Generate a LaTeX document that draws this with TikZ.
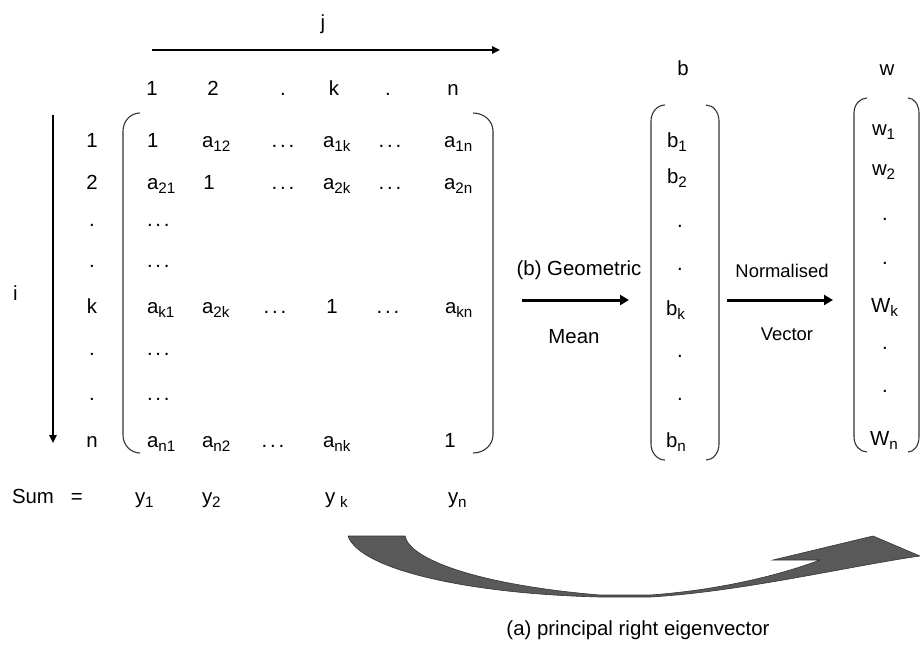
\documentclass[tikz,border=0pt]{standalone}
\usepackage{fontspec}
\setmainfont{Liberation Sans}
\usetikzlibrary{arrows.meta}
\newcommand\mysub[1]{\raisebox{-2.2pt}{\fontsize{7.6}{8}\selectfont #1}}
\newcommand\dts{.\kern1.4pt.\kern1.4pt.}
\newcommand\bracketpath[5]{%
  \draw[brk] (#1,#3) .. controls ({#1+0.552*(#2-#1)},#3) and (#2,{#3+0.448*#5}) .. (#2,{#3+#5})
    -- (#2,{#4-#5}) .. controls (#2,{#4-0.448*#5}) and ({#1+0.552*(#2-#1)},#4) .. (#1,#4);}
\tikzset{
  txt/.style={anchor=base west, inner sep=0pt, outer sep=0pt},
  ctr/.style={anchor=base, inner sep=0pt, outer sep=0pt},
  smalltxt/.style={anchor=base, inner sep=0pt, font=\fontsize{9.2}{11}\selectfont},
  brk/.style={line width=0.55pt, draw=black!80},
  axisarrow/.style={line width=1pt, -{Triangle[length=4pt,width=3.6pt]}},
  thickarrow/.style={line width=1.5pt, -{Triangle[length=4.5pt,width=5pt]}},
  bigcurve/.style={fill=black!65, draw=black!80, line width=0.3pt},
}
\begin{document}
\begin{tikzpicture}[x=0.5pt, y=-0.5pt, font=\fontsize{10.2}{12}\selectfont]
\useasboundingbox (0,0) rectangle (920,648);

% j axis
\node[ctr] (jlab) at (323,29) {j};
\coordinate (jA) at (152,50);
\coordinate (jB) at (500,50);
\draw[axisarrow] (jA) -- (jB);

% column headers
\node[ctr] (h1) at (152,95) {1};
\node[ctr] (h2) at (213,95) {2};
\node[ctr] (h3) at (283,95) {.};
\node[ctr] (h4) at (334,95) {k};
\node[ctr] (h5) at (388,95) {.};
\node[ctr] (h6) at (453,95) {n};

% i axis
\node[ctr] (ilab) at (15.5,300) {i};
\coordinate (iA) at (53,115);
\coordinate (iB) at (53,443);
\draw[axisarrow] (iA) -- (iB);

% row labels
\node[ctr] (r1) at (92,147) {1};
\node[ctr] (r2) at (92,189) {2};
\node[ctr] (r3) at (92,226) {.};
\node[ctr] (r4) at (92,267) {.};
\node[ctr] (r5) at (92,313) {k};
\node[ctr] (r6) at (92,355) {.};
\node[ctr] (r7) at (92,400) {.};
\node[ctr] (r8) at (92,447) {n};

% matrix brackets
\bracketpath{140}{123}{113}{453}{18}
\bracketpath{473}{493}{113}{453}{18}

% row 1
\node[txt] (m11) at (147,147) {1};
\node[txt] (m12) at (202,147) {a\mysub{12}};
\node[ctr] (m13) at (283,147) {\dts};
\node[txt] (m14) at (323,147) {a\mysub{1k}};
\node[ctr] (m15) at (390,147) {\dts};
\node[txt] (m16) at (444,147) {a\mysub{1n}};
% row 2
\node[txt] (m21) at (147,189) {a\mysub{21}};
\node[ctr] (m22) at (209,189) {1};
\node[ctr] (m23) at (283,189) {\dts};
\node[txt] (m24) at (323,189) {a\mysub{2k}};
\node[ctr] (m25) at (390,189) {\dts};
\node[txt] (m26) at (444,189) {a\mysub{2n}};
% rows 3,4
\node[txt] (m31) at (147,226) {\dts};
\node[txt] (m41) at (147,267) {\dts};
% row k
\node[txt] (m51) at (147,313) {a\mysub{k1}};
\node[txt] (m52) at (202,313) {a\mysub{2k}};
\node[ctr] (m53) at (275,313) {\dts};
\node[ctr] (m54) at (332,313) {1};
\node[ctr] (m55) at (388,313) {\dts};
\node[txt] (m56) at (445,313) {a\mysub{kn}};
% rows 6,7
\node[txt] (m61) at (147,355) {\dts};
\node[txt] (m71) at (147,400) {\dts};
% row n
\node[txt] (m81) at (147,447) {a\mysub{n1}};
\node[txt] (m82) at (202,447) {a\mysub{n2}};
\node[ctr] (m83) at (273,447) {\dts};
\node[txt] (m84) at (323,447) {a\mysub{nk}};
\node[ctr] (m86) at (450,447) {1};

% sum row
\node[txt] (sum) at (12,503) {Sum\hspace{8.5pt}=};
\node[txt] (s1) at (135,503) {y\mysub{1}};
\node[txt] (s2) at (202,503) {y\mysub{2}};
\node[txt] (s4) at (325,503) {y\kern2.5pt\mysub{k}};
\node[txt] (s6) at (448,503) {y\mysub{n}};

% geometric mean arrow
\node[ctr] (geo) at (579,275) {(b) Geometric};
\node[ctr] (mean) at (574,343) {Mean};
\coordinate (gA) at (522,300);
\coordinate (gB) at (629,300);
\draw[thickarrow] (gA) -- (gB);

% b vector
\node[ctr] (bh) at (683,75) {b};
\bracketpath{665}{651}{105}{460}{16}
\bracketpath{706}{719}{105}{460}{16}
\node[txt] (b1) at (667,147) {b\mysub{1}};
\node[txt] (b2) at (667,183) {b\mysub{2}};
\node[ctr] (b3) at (680,227) {.};
\node[ctr] (b4) at (680,270) {.};
\node[txt] (b5) at (666,315) {b\mysub{k}};
\node[ctr] (b6) at (680,357) {.};
\node[ctr] (b7) at (680,400) {.};
\node[txt] (b8) at (666,447) {b\mysub{n}};

% normalised arrow
\node[smalltxt] (norm) at (782,277) {Normalised};
\node[smalltxt] (vect) at (787,340) {Vector};
\coordinate (nA) at (727,300);
\coordinate (nB) at (833,300);
\draw[thickarrow] (nA) -- (nB);

% w vector
\node[ctr] (wh) at (887,75) {w};
\bracketpath{867}{854}{98}{452}{15}
\bracketpath{908}{919}{98}{452}{15}
\node[txt] (w1) at (872,135) {w\mysub{1}};
\node[txt] (w2) at (872,175) {w\mysub{2}};
\node[ctr] (w3) at (885,220) {.};
\node[ctr] (w4) at (885,264) {.};
\node[txt] (w5) at (871,312) {W\mysub{k}};
\node[ctr] (w6) at (885,349) {.};
\node[ctr] (w7) at (885,392) {.};
\node[txt] (w8) at (870,445) {W\mysub{n}};

% big curved arrow
\draw[bigcurve] (348,536) -- (405,536)
  .. controls (410,560) and (480,585) .. (600,595)
  -- (650,595)
  .. controls (720,590) and (780,575) .. (820,560)
  -- (773,560) -- (873,536) -- (920,556)
  .. controls (850,566) and (740,592) .. (650,597)
  -- (600,597)
  .. controls (470,594) and (360,570) .. (348,536) -- cycle;
\node[ctr] (eig) at (638,635) {(a) principal right eigenvector};
\end{tikzpicture}
\end{document}
